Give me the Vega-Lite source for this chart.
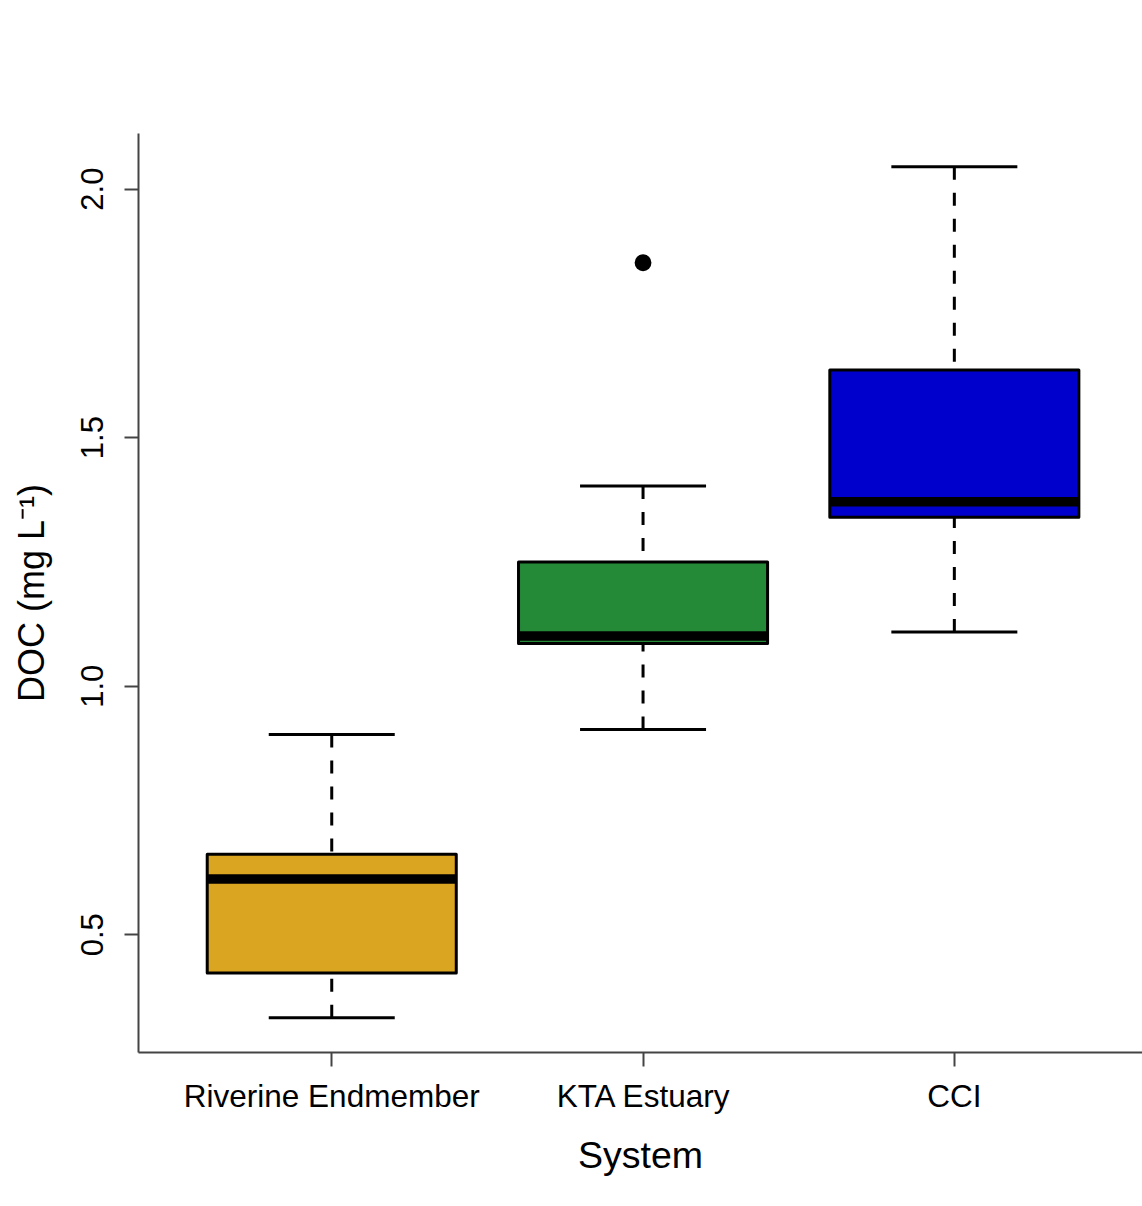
{
  "$schema": "https://vega.github.io/schema/vega-lite/v6.json",
  "width": 1004,
  "height": 919,
  "autosize": {"type": "none"},
  "padding": {"left": 138, "top": 133, "right": 0, "bottom": 154},
  "background": "white",
  "config": {
    "view": {"stroke": null},
    "font": "Liberation Sans",
    "axisX": {
      "domainColor": "#444444", "domainWidth": 2,
      "tickColor": "#444444", "tickWidth": 2, "tickSize": 14,
      "labelFontSize": 31.5, "labelColor": "black", "labelAngle": 0, "labelLimit": 0,
      "labelBaseline": "alphabetic", "labelPadding": 40,
      "titleFontSize": 37.5, "titleFontWeight": "normal", "titleColor": "black",
      "titleBaseline": "alphabetic", "titleY": 115,
      "grid": false
    },
    "axisY": {
      "domainColor": "#444444", "domainWidth": 2,
      "tickColor": "#444444", "tickWidth": 2, "tickSize": 14,
      "labelFontSize": 31, "labelColor": "black", "labelAngle": 270,
      "labelAlign": "center", "labelBaseline": "alphabetic", "labelPadding": 22,
      "labelFlush": false, "labelOverlap": false,
      "titleFontSize": 36, "titleFontWeight": "normal", "titleColor": "black",
      "titleAngle": 270, "titleBaseline": "alphabetic", "titleX": -95,
      "grid": false
    }
  },
  "datasets": {
    "boxes": [
      {"system": "Riverine Endmember", "lower": 0.332, "q1": 0.422, "median": 0.611, "q3": 0.661, "upper": 0.902},
      {"system": "KTA Estuary", "lower": 0.912, "q1": 1.085, "median": 1.100, "q3": 1.249, "upper": 1.402},
      {"system": "CCI", "lower": 1.108, "q1": 1.339, "median": 1.370, "q3": 1.635, "upper": 2.044}
    ],
    "outliers": [
      {"system": "KTA Estuary", "doc": 1.851}
    ]
  },
  "layer": [
    {
      "data": {"name": "boxes"},
      "mark": {"type": "rule", "color": "black", "strokeWidth": 3, "strokeDash": [13, 13]},
      "encoding": {
        "x": {"field": "system", "type": "nominal", "sort": ["Riverine Endmember", "KTA Estuary", "CCI"],
              "scale": {"paddingInner": 0.2, "paddingOuter": 0.2126, "align": 0.523}, "title": "System"},
        "y": {"field": "upper", "type": "quantitative", "scale": {"domain": [0.263, 2.112], "nice": false, "zero": false},
              "axis": {"values": [0.5, 1.0, 1.5, 2.0], "format": ".1f"}, "title": "DOC (mg L⁻¹)"},
        "y2": {"field": "q3"}
      }
    },
    {
      "data": {"name": "boxes"},
      "mark": {"type": "rule", "color": "black", "strokeWidth": 3, "strokeDash": [13, 13]},
      "encoding": {
        "x": {"field": "system", "type": "nominal", "sort": ["Riverine Endmember", "KTA Estuary", "CCI"], "title": "System"},
        "y": {"field": "lower", "type": "quantitative", "title": "DOC (mg L⁻¹)"},
        "y2": {"field": "q1"}
      }
    },
    {
      "data": {"name": "boxes"},
      "mark": {"type": "tick", "color": "black", "opacity": 1, "size": 126, "thickness": 3},
      "encoding": {
        "x": {"field": "system", "type": "nominal", "sort": ["Riverine Endmember", "KTA Estuary", "CCI"], "title": "System"},
        "y": {"field": "upper", "type": "quantitative", "title": "DOC (mg L⁻¹)"}
      }
    },
    {
      "data": {"name": "boxes"},
      "mark": {"type": "tick", "color": "black", "opacity": 1, "size": 126, "thickness": 3},
      "encoding": {
        "x": {"field": "system", "type": "nominal", "sort": ["Riverine Endmember", "KTA Estuary", "CCI"], "title": "System"},
        "y": {"field": "lower", "type": "quantitative", "title": "DOC (mg L⁻¹)"}
      }
    },
    {
      "data": {"name": "boxes"},
      "mark": {"type": "bar", "stroke": "black", "strokeWidth": 3, "strokeJoin": "round", "opacity": 1},
      "encoding": {
        "x": {"field": "system", "type": "nominal", "sort": ["Riverine Endmember", "KTA Estuary", "CCI"], "title": "System"},
        "y": {"field": "q1", "type": "quantitative", "title": "DOC (mg L⁻¹)"},
        "y2": {"field": "q3"},
        "fill": {"field": "system", "type": "nominal", "legend": null,
                 "scale": {"domain": ["Riverine Endmember", "KTA Estuary", "CCI"], "range": ["#DAA520", "#248A38", "#0000CD"]}}
      }
    },
    {
      "data": {"name": "boxes"},
      "mark": {"type": "tick", "color": "black", "opacity": 1, "size": 249, "thickness": 9.5},
      "encoding": {
        "x": {"field": "system", "type": "nominal", "sort": ["Riverine Endmember", "KTA Estuary", "CCI"], "title": "System"},
        "y": {"field": "median", "type": "quantitative", "title": "DOC (mg L⁻¹)"}
      }
    },
    {
      "data": {"name": "outliers"},
      "mark": {"type": "point", "shape": "circle", "filled": true, "color": "black", "opacity": 1, "size": 283},
      "encoding": {
        "x": {"field": "system", "type": "nominal", "sort": ["Riverine Endmember", "KTA Estuary", "CCI"], "title": "System"},
        "y": {"field": "doc", "type": "quantitative", "title": "DOC (mg L⁻¹)"}
      }
    },
    {
      "mark": {"type": "rule", "color": "#444444", "strokeWidth": 2},
      "encoding": {
        "y": {"datum": 2.112, "type": "quantitative"}
      }
    }
  ]
}
